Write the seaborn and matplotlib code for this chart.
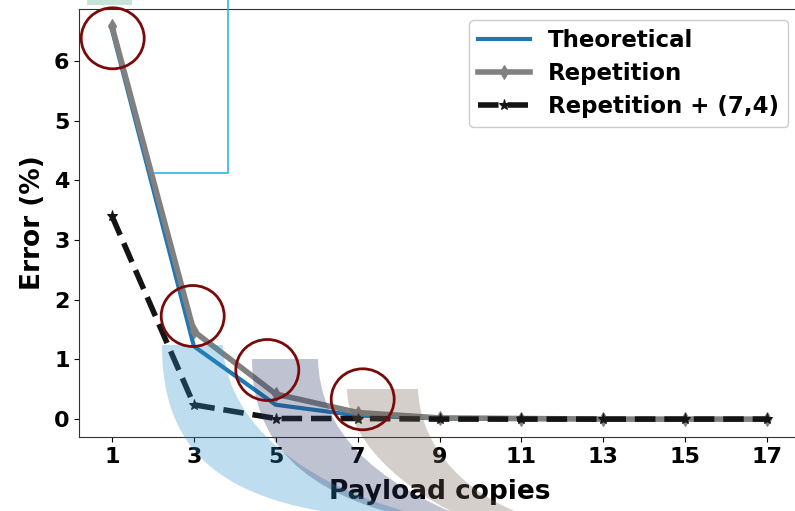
import numpy as np
import matplotlib
matplotlib.use('Agg')
import matplotlib.pyplot as plt
import seaborn as sns
from matplotlib.path import Path
from matplotlib.patches import PathPatch, Ellipse, Rectangle
from matplotlib.lines import Line2D
from matplotlib.transforms import Affine2D

# dados
copies = [1, 3, 5, 7, 9, 11, 13, 15, 17]
theoretical = [6.52, 1.22, 0.24, 0.06, 0.01, 0.0, 0.0, 0.0, 0.0]
repetition = [6.58, 1.47, 0.42, 0.11, 0.02, 0.01, 0.0, 0.0, 0.0]
rep_hamming = [3.40, 0.24, 0.01, 0.01, 0.0, 0.0, 0.0, 0.0, 0.0]
xticks = [1, 3, 5, 7, 9, 11, 13, 15, 17]

plt.rcParams['font.family'] = ['DejaVu Sans']
plt.rcParams['font.weight'] = 'bold'

fig = plt.figure(figsize=(7.95, 5.11), dpi=100)
ax = fig.add_axes([0.0997, 0.1448, 0.9063, 0.8376])

sns.lineplot(x=copies, y=theoretical, ax=ax, color='#1f77b4', lw=3,
             label='Theoretical')
sns.lineplot(x=copies, y=repetition, ax=ax, color='gray', lw=4,
             marker='d', markersize=7, markeredgecolor='gray',
             label='Repetition')
sns.lineplot(x=copies, y=rep_hamming, ax=ax, color='#141414', lw=4,
             linestyle='--', marker='*', markersize=8,
             markeredgecolor='#141414', label='Repetition + (7,4)')

ax.set_xlim(0.2, 17.8)
ax.set_ylim(-0.3, 6.87)
ax.set_xticks(xticks)
ax.set_xticklabels([str(t) for t in xticks])
ax.tick_params(labelsize=16)
for lab in ax.get_xticklabels() + ax.get_yticklabels():
    lab.set_fontweight('bold')
ax.set_xlabel('Payload copies', fontsize=19, fontweight='bold', labelpad=9)
ax.set_ylabel('Error (%)', fontsize=19, fontweight='bold', labelpad=6)
for s in ax.spines.values():
    s.set_color('#333333')

ax.legend(loc='upper right', prop={'weight': 'bold', 'size': 16.5},
          bbox_to_anchor=(0.984, 0.974), borderaxespad=0, handlelength=2.25,
          labelspacing=0.42, framealpha=1)

# marcações sobrepostas (coordenadas em pixels)
px = Affine2D().scale(1 / 795, -1 / 511).translate(0, 1) + fig.transFigure

def faixa(outer, inner, cor):
    verts = list(outer) + [inner[3], inner[2], inner[1], inner[0], outer[0]]
    codes = [Path.MOVETO, Path.CURVE4, Path.CURVE4, Path.CURVE4,
             Path.LINETO, Path.CURVE4, Path.CURVE4, Path.CURVE4, Path.CLOSEPOLY]
    p = PathPatch(Path(verts, codes), facecolor=cor, edgecolor='none',
                  alpha=0.3, transform=px, clip_on=False, zorder=6)
    fig.add_artist(p)

faixa([(162, 345), (162, 460), (230, 515), (420, 520)],
      [(223, 345), (226, 420), (300, 490), (440, 520)], '#2991c8')
faixa([(252, 359), (252, 440), (300, 495), (420, 520)],
      [(318, 359), (320, 430), (370, 480), (470, 520)], '#2d3a69')
faixa([(347, 389), (348, 450), (420, 500), (480, 525)],
      [(418, 389), (420, 450), (470, 500), (540, 520)], '#736255')

for cx, cy in [(112.7, 38.3), (192.7, 316), (267.3, 370), (362.7, 399.3)]:
    fig.add_artist(Ellipse((cx, cy), 63, 61, fill=False, edgecolor='#7a0a0a',
                           lw=2, transform=px, zorder=8))

fig.add_artist(Line2D([154, 228, 228], [173, 173, 0], color='#19b2ec',
                      lw=1.1, transform=px, zorder=7))
fig.add_artist(Rectangle((87, 0), 45, 5, facecolor='#c5e6d6', edgecolor='none',
                         transform=px, zorder=7))

plt.savefig('out.png', dpi=100)
